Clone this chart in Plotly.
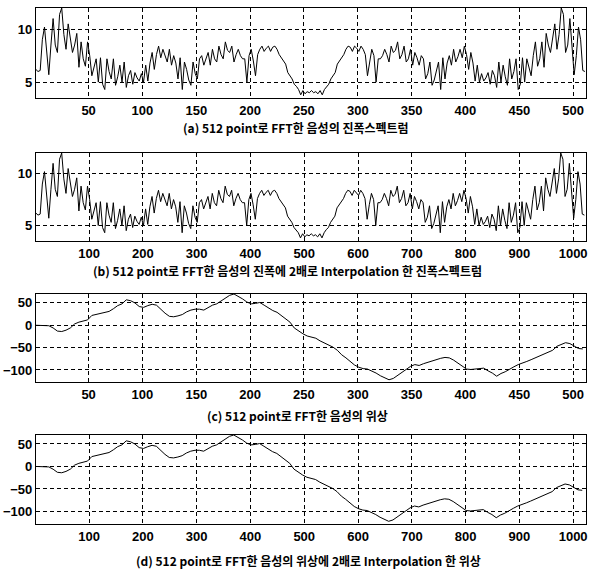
import plotly.graph_objects as go

# ---------------- data ----------------
# (a) amplitude spectrum of the 512-point FFT, read at every 2nd bin (bins 1,3,5,...,511)
mag_first_half = [  # bins 1..255
    6.2, 6.0, 6.1, 9.0, 10.2, 7.5, 5.7, 8.5, 11.0, 8.5, 7.8, 11.4, 12.0, 9.5, 8.1, 10.5,
    9.0, 7.8, 8.5, 9.6, 6.4, 8.8, 7.2, 6.5, 8.8, 7.5, 5.6, 6.5, 7.2, 5.0, 7.3, 4.8,
    4.3, 7.2, 6.0, 5.3, 7.2, 4.7, 5.5, 6.6, 5.0, 6.9, 4.5, 5.6, 6.1, 4.8, 5.9, 5.4,
    5.1, 5.8, 5.0, 6.6, 5.1, 6.8, 7.8, 6.2, 7.6, 8.4, 7.3, 8.1, 7.4, 6.9, 8.1, 6.6,
    7.5, 6.8, 5.3, 7.3, 4.3, 6.9, 6.2, 5.2, 4.7, 6.9, 5.8, 5.3, 7.2, 7.5, 6.6, 7.3,
    7.8, 6.6, 8.1, 7.2, 6.9, 8.4, 7.6, 7.2, 8.8, 8.0, 7.8, 8.4, 6.9, 7.6, 8.1, 7.5,
    7.2, 7.2, 5.0, 7.5, 8.1, 7.0, 5.6, 7.6, 8.1, 8.4, 7.9, 8.2, 8.4, 7.9, 8.3, 8.4,
    8.1, 7.6, 7.3, 7.0, 6.7, 5.9, 5.6, 5.3, 4.8, 4.6, 4.3, 3.8, 4.2, 3.9, 4.1, 4.0,
]
mag_nyquist = [4.2]  # bin 257
mag_second_half = [  # bins 259..511
    4.0, 4.1, 3.9, 4.2, 3.8, 4.3, 4.6, 4.8, 5.3, 5.6, 5.9, 6.7, 7.0, 7.3, 7.6, 8.1,
    8.4, 8.3, 7.9, 8.4, 8.2, 7.9, 8.4, 8.1, 7.6, 5.6, 7.0, 8.1, 7.5, 5.0, 7.2, 7.2,
    7.5, 8.1, 7.6, 6.9, 8.4, 7.8, 8.0, 8.8, 7.2, 7.6, 8.4, 6.9, 7.2, 8.1, 6.6, 7.8,
    7.3, 6.6, 7.5, 7.2, 5.3, 5.8, 6.9, 4.7, 5.2, 6.2, 6.9, 4.3, 7.3, 5.3, 6.8, 7.5,
    6.6, 8.1, 6.9, 7.4, 8.1, 7.3, 8.4, 7.6, 6.2, 7.8, 6.8, 5.1, 6.6, 5.0, 5.8, 5.1,
    5.4, 5.9, 4.8, 6.1, 5.6, 4.5, 6.9, 5.0, 6.6, 5.5, 4.7, 7.2, 5.3, 6.0, 7.2, 4.3,
    4.8, 7.3, 5.0, 7.2, 6.5, 5.6, 7.5, 8.8, 6.5, 7.2, 8.8, 6.4, 9.6, 8.5, 7.8, 9.0,
    10.5, 8.1, 9.5, 12.0, 11.4, 7.8, 8.5, 11.0, 8.5, 5.7, 7.5, 10.2, 9.0, 6.1, 6.0,
]
mag_values = mag_first_half + mag_nyquist + mag_second_half

# (c) phase of the 512-point FFT, read at every 4th bin (bins 1,5,9,...)
phase_values = [0, 0, 0, -1, -6, -13, -14, -11, -6, 3, 7, 9, 12, 22, 24, 27,
                29, 31, 37, 44, 48, 57, 55, 50, 42, 40, 44, 47, 45, 35, 27, 20,
                19, 21, 24, 30, 34, 36, 36, 34, 40, 45, 48, 54, 60, 67, 70, 65,
                59, 52, 48, 49, 51, 45, 38, 33, 29, 22, 15, 7, -6, -13, -19, -24,
                -27, -29, -35, -40, -44, -49, -56, -66, -73, -82, -89, -94, -97, -98, -102, -107,
                -113, -118, -122, -119, -112, -104, -97, -92, -88, -90, -86, -83, -79, -76, -74, -72,
                -73, -78, -85, -93, -98, -99, -98, -97, -96, -102, -107, -114, -108, -104, -98, -93,
                -88, -85, -81, -77, -73, -68, -65, -61, -56, -47, -43, -39, -41, -47, -52, -53]

mag_bins = [1 + 2 * i for i in range(len(mag_values))]
phase_bins = [1 + 4 * i for i in range(len(phase_values))]
# 2x interpolation doubles the bin index
mag_bins_interp = [2 * b - 1 for b in mag_bins]
phase_bins_interp = [2 * b - 1 for b in phase_bins]

ticks_512 = [50, 100, 150, 200, 250, 300, 350, 400, 450, 500]
ticks_1024 = [100, 200, 300, 400, 500, 600, 700, 800, 900, 1000]
mag_ticks = [5, 10]
phase_ticks = [50, 0, -50, -100]

captions = [
    "(a) 512 point로 FFT한 음성의 진폭스펙트럼",
    "(b) 512 point로 FFT한 음성의 진폭에 2배로 Interpolation 한 진폭스펙트럼",
    "(c) 512 point로 FFT한 음성의 위상",
    "(d) 512 point로 FFT한 음성의 위상에 2배로 Interpolation 한 위상",
]

# ---------------- figure ----------------
W, H = 595, 572
fig = go.Figure()

line = dict(color="black", width=1)
fig.add_trace(go.Scatter(x=mag_bins, y=mag_values, mode="lines", line=line, xaxis="x", yaxis="y"))
fig.add_trace(go.Scatter(x=mag_bins_interp, y=mag_values, mode="lines", line=line, xaxis="x2", yaxis="y2"))
fig.add_trace(go.Scatter(x=phase_bins, y=phase_values, mode="lines", line=line, xaxis="x3", yaxis="y3"))
fig.add_trace(go.Scatter(x=phase_bins_interp, y=phase_values, mode="lines", line=line, xaxis="x4", yaxis="y4"))

def py(p):
    return 1 - p / H

panels = [  # top px, bottom px
    (8, 98),
    (153, 241),
    (294, 382),
    (435, 524),
]
xdom = [36 / W, 588 / W]
tickfont = dict(family="Liberation Sans Narrow, Liberation Sans, Arial", size=13,
                color="black", weight="bold")

axcommon = dict(
    showline=True, linecolor="black", linewidth=1, mirror=True,
    showgrid=True, gridcolor="black", gridwidth=1, griddash="4px,3px",
    zeroline=False, ticks="", tickfont=tickfont, fixedrange=True,
)

xranges = [[1, 512], [1, 1024], [1, 512], [1, 1024]]
xticks = [ticks_512, ticks_1024, ticks_512, ticks_1024]
yranges = [[3.5, 12], [3.5, 12], [-127, 70], [-128, 70]]
yticks = [mag_ticks, mag_ticks, phase_ticks, phase_ticks]

layout = dict(
    width=W, height=H, margin=dict(l=0, r=0, t=0, b=0),
    paper_bgcolor="white", plot_bgcolor="white", showlegend=False,
)
for i, (top, bot) in enumerate(panels):
    sfx = "" if i == 0 else str(i + 1)
    layout["xaxis" + sfx] = dict(
        axcommon, domain=xdom, range=xranges[i], tickvals=xticks[i],
        anchor="y" + sfx,
    )
    layout["yaxis" + sfx] = dict(
        axcommon, domain=[py(bot), py(top)], range=yranges[i], tickvals=yticks[i],
        anchor="x" + sfx,
    )
fig.update_layout(**layout)

caption_y = [127, 270, 415, 560]
caption_x = [297, 288, 299, 310]
for cap, cx, cy in zip(captions, caption_x, caption_y):
    fig.add_annotation(
        text=cap, x=cx / W, y=py(cy), xref="paper", yref="paper",
        showarrow=False, xanchor="center", yanchor="middle",
        font=dict(family="Noto Sans CJK KR", size=12, color="black", weight="bold"),
    )

fig.write_html(
    "out.html",
    config={"displayModeBar": False},
    post_script="document.body.style.margin='0';document.body.style.overflow='hidden';",
)
